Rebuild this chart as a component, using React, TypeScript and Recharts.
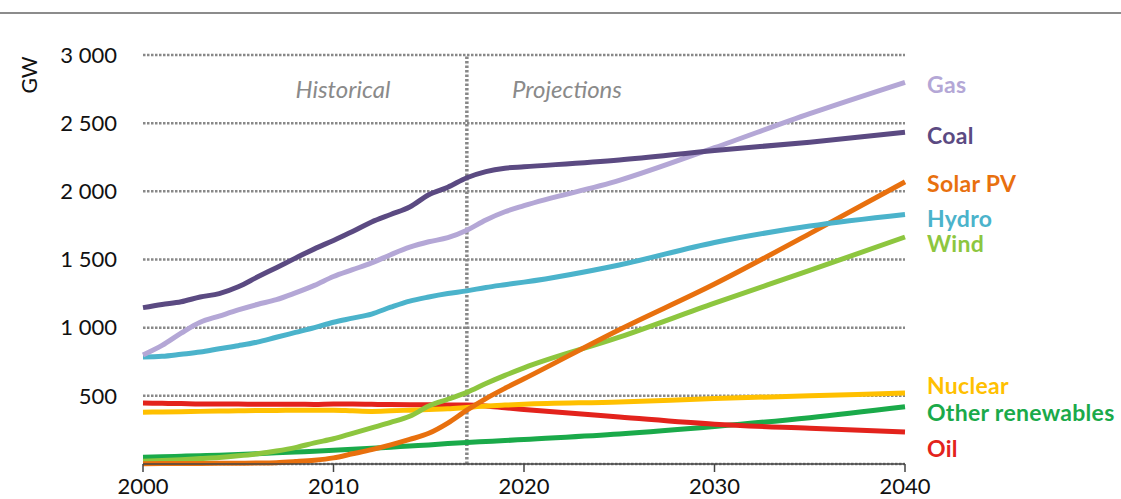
import { LineChart, Line, XAxis, YAxis, CartesianGrid, ReferenceLine, LabelList } from 'recharts';

const years = [
  2000, 2001, 2002, 2003, 2004, 2005, 2006, 2007, 2008, 2009, 2010, 2011, 2012,
  2013, 2014, 2015, 2016, 2017, 2018, 2019, 2020, 2025, 2030, 2035, 2040,
];

const gas = [
  800, 870, 960, 1040, 1085, 1130, 1170, 1205, 1255, 1310, 1375, 1425, 1475,
  1535, 1590, 1630, 1660, 1715, 1790, 1850, 1895, 2080, 2320, 2570, 2800,
];
const coal = [
  1147, 1170, 1190, 1225, 1250, 1300, 1371, 1440, 1510, 1578, 1640, 1705, 1775,
  1830, 1885, 1975, 2030, 2100, 2145, 2170, 2180, 2230, 2300, 2360, 2433,
];
const solarPv = [
  2, 3, 3, 4, 5, 6, 7, 10, 18, 28, 45, 75, 105,
  140, 180, 225, 300, 395, 480, 555, 625, 985, 1320, 1690, 2070,
];
const hydro = [
  785, 790, 805, 821, 845, 868, 894, 930, 965, 1000, 1040, 1070, 1100,
  1150, 1195, 1225, 1250, 1270, 1295, 1315, 1334, 1460, 1625, 1745, 1830,
];
const wind = [
  20, 25, 32, 40, 48, 60, 75, 95, 120, 155, 185, 225, 265,
  305, 350, 425, 475, 525, 590, 650, 705, 930, 1180, 1420, 1665,
];
const nuclear = [
  380, 382, 384, 386, 388, 390, 392, 393, 394, 395, 395, 390, 386,
  390, 395, 400, 405, 415, 425, 432, 438, 455, 480, 500, 520,
];
const otherRenewables = [
  50, 53, 57, 61, 65, 70, 76, 82, 88, 93, 100, 108, 115,
  123, 132, 140, 150, 158, 165, 172, 180, 220, 275, 340, 420,
];
const oil = [
  447, 445, 443, 440, 440, 440, 438, 438, 438, 437, 440, 440, 438,
  436, 435, 435, 433, 432, 425, 412, 400, 345, 292, 262, 235,
];

const yTicks = [500, 1000, 1500, 2000, 2500, 3000];
const xTicks = [2000, 2010, 2020, 2030, 2040];

const data = years.map((year, i) => ({
  year,
  gas: gas[i],
  coal: coal[i],
  solarPv: solarPv[i],
  hydro: hydro[i],
  wind: wind[i],
  nuclear: nuclear[i],
  otherRenewables: otherRenewables[i],
  oil: oil[i],
}));

// draw order: lower series first so the big ones sit on top
const series = [
  { key: 'otherRenewables', name: 'Other renewables', color: '#1AAA4A', dy: 5 },
  { key: 'oil', name: 'Oil', color: '#E3231C', dy: 16 },
  { key: 'nuclear', name: 'Nuclear', color: '#FFC000', dy: -8 },
  { key: 'wind', name: 'Wind', color: '#8DC63F', dy: 6 },
  { key: 'solarPv', name: 'Solar PV', color: '#E8700E', dy: 1 },
  { key: 'hydro', name: 'Hydro', color: '#4BB3CB', dy: 3 },
  { key: 'gas', name: 'Gas', color: '#B4A7D6', dy: 2 },
  { key: 'coal', name: 'Coal', color: '#5B4A82', dy: 3 },
];

const FONT = 'Lato, "Open Sans", sans-serif';
const lastIndex = years.length - 1;

const fmt = (v: number) => (v >= 1000 ? `${Math.floor(v / 1000)} ${String(v % 1000).padStart(3, '0')}` : String(v));

function endLabel(name: string, color: string, dy: number) {
  return (props: any) => {
    if (props.index !== lastIndex) return null;
    return (
      <text
        x={Number(props.x) + 22}
        y={Number(props.y) + dy}
        dominantBaseline="central"
        fill={color}
        fontFamily={FONT}
        fontWeight={700}
        fontSize={23}
        letterSpacing={0.3}
      >
        {name}
      </text>
    );
  };
}

const noteStyle = {
  position: 'absolute' as const,
  top: 88,
  transform: 'translate(-50%, -50%)',
  fontFamily: FONT,
  fontStyle: 'italic',
  fontSize: 24,
  color: '#8a8a8a',
  whiteSpace: 'nowrap' as const,
};

export default function App() {
  return (
    <div style={{ position: 'absolute', left: 0, top: 0, width: 1121, height: 499, background: '#fff' }}>
      <div style={{ position: 'absolute', left: 0, top: 12, width: 1121, borderTop: '2px solid #8c8c8c' }} />
      <div
        style={{
          position: 'absolute',
          left: 28,
          top: 75,
          transform: 'translate(-50%, -50%) rotate(-90deg)',
          fontFamily: FONT,
          fontSize: 21,
          color: '#111',
        }}
      >
        GW
      </div>
      <div style={{ ...noteStyle, left: 343 }}>Historical</div>
      <div style={{ ...noteStyle, left: 567 }}>Projections</div>
      <LineChart width={1121} height={499} data={data} margin={{ top: 55, right: 216, left: 0, bottom: 0 }}>
        <CartesianGrid vertical={false} stroke="#888" strokeWidth={2.5} strokeDasharray="2.5 1.5" />
        <XAxis
          dataKey="year"
          type="number"
          domain={[2000, 2040]}
          ticks={xTicks}
          height={35}
          axisLine={{ stroke: '#444', strokeWidth: 1.5 }}
          tickLine={{ stroke: '#444', strokeWidth: 1.5 }}
          tickSize={8}
          tickMargin={6}
          tick={{ fill: '#111', fontFamily: FONT, fontSize: 22 }}
        />
        <YAxis
          type="number"
          domain={[0, 3000]}
          ticks={yTicks}
          width={143}
          axisLine={false}
          tickLine={false}
          tickSize={0}
          tickMargin={26}
          tickFormatter={fmt}
          tick={{ fill: '#111', fontFamily: FONT, fontSize: 22 }}
        />
        <ReferenceLine x={2017} stroke="#888" strokeWidth={3.5} strokeDasharray="2.5 2" />
        {series.map((s) => (
          <Line
            key={s.key}
            dataKey={s.key}
            type="monotone"
            stroke={s.color}
            strokeWidth={5}
            dot={false}
            isAnimationActive={false}
          >
            <LabelList dataKey={s.key} content={endLabel(s.name, s.color, s.dy)} />
          </Line>
        ))}
      </LineChart>
    </div>
  );
}
